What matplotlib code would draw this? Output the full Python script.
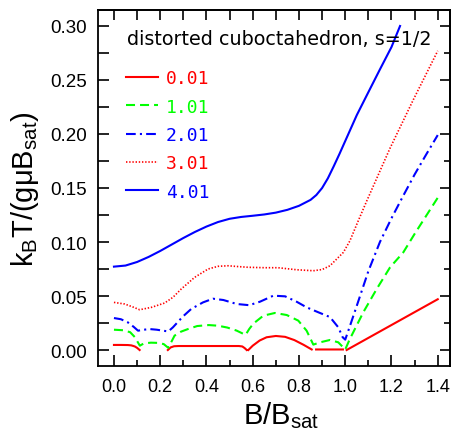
import numpy as np
import matplotlib
matplotlib.use("Agg")
import matplotlib.pyplot as plt
from matplotlib.ticker import MultipleLocator, FormatStrFormatter

nan = np.nan

# ---- data ----
b_001 = [0, 0.03, 0.06, 0.075, 0.09, 0.1, 0.111, nan, 0.233, 0.245, 0.26, 0.28, 0.35, 0.45, 0.54,
         0.555, 0.565, 0.574, nan, 0.581, 0.6, 0.63, 0.66, 0.70, 0.74, 0.78, 0.82, 0.855, nan,
         0.874, 0.99, nan, 1.006, 1.4]
t_001 = [0.0047, 0.0047, 0.0046, 0.0043, 0.0033, 0.002, 0.0, nan, 0.0, 0.0024, 0.0035, 0.0037,
         0.0037, 0.0037, 0.0037, 0.0033, 0.0018, 0.0, nan, 0.0, 0.0040, 0.0088, 0.0118, 0.0130,
         0.0122, 0.0092, 0.0048, 0.0005, nan, 0.0005, 0.0005, nan, 0.0, 0.047]

b_101 = [0, 0.04, 0.07, 0.09, 0.112, 0.13, 0.16, 0.19, 0.215, 0.235, 0.262, 0.29, 0.32, 0.36,
         0.41, 0.45, 0.49, 0.53, 0.569, 0.585, 0.603, 0.646, 0.696, 0.747, 0.797, 0.833, 0.862,
         0.891, 0.934, 0.97, 1.0, 1.02, 1.078, 1.136, 1.194, 1.251, 1.3, 1.4]
t_101 = [0.0188, 0.0183, 0.0165, 0.012, 0.004, 0.0062, 0.0068, 0.0066, 0.0055, 0.002, 0.0133,
         0.0170, 0.0194, 0.0222, 0.0231, 0.0225, 0.0208, 0.0180, 0.0140, 0.0195, 0.0245, 0.0318,
         0.0343, 0.0324, 0.0272, 0.0179, 0.005, 0.0071, 0.0093, 0.0071, 0.0005, 0.0102, 0.0349,
         0.0565, 0.0766, 0.0904, 0.1075, 0.141]

b_201 = [0, 0.03, 0.06, 0.085, 0.104, 0.13, 0.154, 0.185, 0.212, 0.235, 0.255, 0.298, 0.334,
         0.385, 0.428, 0.473, 0.531, 0.585, 0.631, 0.689, 0.74, 0.79, 0.833, 0.884, 0.934, 0.97,
         0.989, 1.0, 1.02, 1.05, 1.1, 1.15, 1.2, 1.25, 1.3, 1.35, 1.4]
t_201 = [0.0296, 0.0285, 0.0256, 0.0215, 0.0179, 0.0188, 0.0194, 0.0188, 0.0179, 0.0172, 0.021,
         0.031, 0.038, 0.0441, 0.0475, 0.0463, 0.0426, 0.0415, 0.0447, 0.0503, 0.0497, 0.0447,
         0.0395, 0.0349, 0.0305, 0.021, 0.0118, 0.0096, 0.022, 0.041, 0.073, 0.100, 0.122,
         0.1425, 0.1625, 0.181, 0.199]

b_301 = [0, 0.046, 0.08, 0.111, 0.162, 0.219, 0.255, 0.291, 0.349, 0.407, 0.45, 0.493, 0.54,
         0.58, 0.65, 0.709, 0.79, 0.862, 0.9, 0.934, 0.962, 0.992, 1.02, 1.057, 1.093, 1.194,
         1.295, 1.4]
t_301 = [0.0441, 0.0426, 0.040, 0.0373, 0.0395, 0.0435, 0.0488, 0.0565, 0.0673, 0.075, 0.0775,
         0.078, 0.0772, 0.0766, 0.0762, 0.0762, 0.0743, 0.0734, 0.0745, 0.078, 0.084, 0.0904,
         0.101, 0.120, 0.138, 0.187, 0.232, 0.277]

b_401 = [0, 0.05, 0.1, 0.15, 0.2, 0.25, 0.3, 0.35, 0.4, 0.45, 0.5, 0.55, 0.6, 0.65, 0.7, 0.75,
         0.8, 0.85, 0.875, 0.9, 0.925, 0.95, 0.975, 1.0, 1.05, 1.1, 1.15, 1.2, 1.237]
t_401 = [0.0772, 0.0782, 0.0815, 0.0862, 0.0917, 0.0977, 0.1037, 0.1093, 0.1143, 0.1185, 0.1215,
         0.1232, 0.1243, 0.1255, 0.1272, 0.1298, 0.1335, 0.1390, 0.1435, 0.1500, 0.1590, 0.1700,
         0.1815, 0.1935, 0.2175, 0.2387, 0.2598, 0.2805, 0.3000]

labels = ["0.01", "1.01", "2.01", "3.01", "4.01"]
title_text = "distorted cuboctahedron, s=1/2"
x_label = r"$\mathregular{B/B_{sat}}$"
y_label = r"$\mathregular{k_BT/(g\mu B_{sat})}$"

# ---- style ----
plt.rcParams['lines.scale_dashes'] = False
plt.rcParams['mathtext.fontset'] = 'custom'
plt.rcParams['mathtext.rm'] = 'Liberation Sans'
plt.rcParams['mathtext.it'] = 'Liberation Sans'
plt.rcParams['font.family'] = ['Liberation Sans', 'DejaVu Sans']

RED, GREEN, BLUE = '#ff0000', '#00ff00', '#0000ff'

fig = plt.figure(figsize=(4.51, 4.35), dpi=100)
ax = fig.add_axes([98/451, 68/435, 352/451, 356/435])

series = [
    (b_001, t_001, dict(color=RED, lw=1.5, ls='-')),
    (b_101, t_101, dict(color=GREEN, lw=1.5, dashes=(6.5, 3.6))),
    (b_201, t_201, dict(color=BLUE, lw=1.5, dashes=(7, 3, 1.5, 3))),
    (b_301, t_301, dict(color=RED, lw=1.2, dashes=(1.0, 1.3))),
    (b_401, t_401, dict(color=BLUE, lw=1.5, ls='-')),
]
handles = []
for (xs, ys, st), lab in zip(series, labels):
    h, = ax.plot(xs, ys, label=lab, **st)
    handles.append(h)

ax.set_xlim(-0.069, 1.453)
ax.set_ylim(-0.0148, 0.3148)

for sp in ax.spines.values():
    sp.set_linewidth(1.3)

ax.xaxis.set_major_locator(MultipleLocator(0.2))
ax.xaxis.set_minor_locator(MultipleLocator(0.1))
ax.xaxis.set_major_formatter(FormatStrFormatter('%.1f'))
ax.yaxis.set_major_locator(MultipleLocator(0.05))
ax.yaxis.set_minor_locator(MultipleLocator(0.025))
ax.yaxis.set_major_formatter(FormatStrFormatter('%.2f'))

ax.tick_params(axis='x', which='major', direction='in', length=8, width=1.2, pad=9,
               labelsize=13, top=False)
ax.tick_params(axis='x', which='minor', direction='in', length=4, width=1.2, top=False)
ax.tick_params(axis='y', which='major', direction='in', length=8, width=1.2, pad=8,
               labelsize=13.5, right=False)
ax.tick_params(axis='y', which='minor', direction='in', length=8, width=1.2, right=False)

secx = ax.secondary_xaxis('top')
secx.xaxis.set_major_locator(MultipleLocator(0.1))
secx.tick_params(axis='x', which='major', direction='in', length=7, width=1.2, labeltop=False)
secx.spines['top'].set_linewidth(1.3)

secy = ax.secondary_yaxis('right')
secy.yaxis.set_major_locator(MultipleLocator(0.05))
secy.yaxis.set_minor_locator(MultipleLocator(0.025))
secy.tick_params(axis='y', which='major', direction='in', length=7, width=1.2, labelright=False)
secy.tick_params(axis='y', which='minor', direction='in', length=4, width=1.2)
secy.spines['right'].set_linewidth(1.3)

ax.set_xlabel(x_label, fontsize=21)
ax.set_ylabel(y_label, fontsize=21)
ax.xaxis.set_label_coords(0.52, -0.093)
ax.yaxis.set_label_coords(-0.163, 0.5)

ax.text(0.0815, 0.92, title_text, transform=ax.transAxes, fontsize=13.8,
        family='DejaVu Sans', ha='left', va='center')

leg = ax.legend(handles=handles, loc='upper left', bbox_to_anchor=(0.08, 0.833),
                frameon=False, borderpad=0, borderaxespad=0, handlelength=1.75,
                handletextpad=0.45, labelspacing=0.57,
                prop=dict(family='DejaVu Sans Mono', size=13), labelcolor='linecolor')

fig.savefig('out.png', dpi=100)
